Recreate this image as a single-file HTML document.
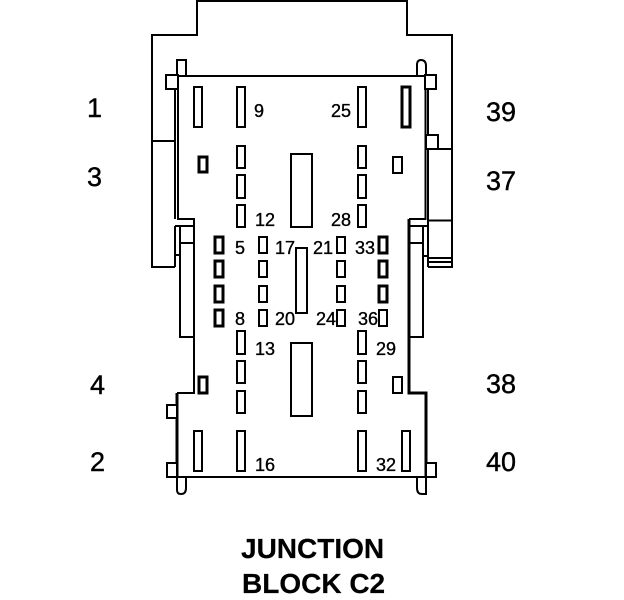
<!DOCTYPE html>
<html>
<head>
<meta charset="utf-8">
<style>
html,body{margin:0;padding:0;background:#fff;width:624px;height:600px;overflow:hidden}
svg{display:block}
.k{fill:none;stroke:#000;stroke-width:2.2;shape-rendering:crispEdges}
.w{fill:none;stroke:#000;stroke-width:3;shape-rendering:crispEdges}
.p{fill:#fff;stroke:#000;stroke-width:2;shape-rendering:crispEdges}
.t{fill:#fff;stroke:#000;stroke-width:3;shape-rendering:crispEdges}
.c{fill:none;stroke:#000;stroke-width:2}
text{font-family:"Liberation Sans",Arial,sans-serif;fill:#000;stroke:#000}
.s{font-size:18px;stroke-width:.35}
.b{font-size:27px;stroke-width:.4}
.h{font-size:28px;font-weight:bold;stroke-width:.2}
</style>
</head>
<body>
<svg width="624" height="600" viewBox="0 0 624 600" xmlns="http://www.w3.org/2000/svg">
<!-- outer housing -->
<path class="k" d="M197 36V1H407V35H452V267H428M197 35H152V267H175"/>
<path class="k" d="M152 141H175M428 149H453M428 220.500H453M428 262H453M428 258H452"/>
<!-- body -->
<path class="k" d="M178 76H426M167 477H436"/>
<path class="k" d="M175 89V219M175 226V267M178 76V219H194V393H177"/>
<path class="w" d="M177 393V477"/>
<path class="k" d="M425.500 76V219H409M428 89V267"/>
<path class="w" d="M409 219V393H426V477"/>
<path class="k" d="M175 226H194M180 226V337H194M180 243H194M175 255H180"/>
<path class="k" d="M409 226H427M423 226V337H409M409 243H423M423 256H428"/>
<!-- tabs -->
<rect class="p" x="177" y="60" width="9" height="16"/>
<rect class="p" x="166" y="75" width="12" height="14"/>
<rect class="p" x="425" y="75" width="11" height="14"/>
<rect class="p" x="426" y="135" width="12" height="14"/>
<rect class="p" x="167" y="405" width="10" height="13"/>
<rect class="p" x="167" y="463" width="10" height="14"/>
<rect class="p" x="426" y="463" width="10" height="14"/>
<path class="c" d="M417 76V65Q417 60 421 60Q426 60 426 66V76"/>
<path class="c" d="M177 477V490Q177 494 181 494Q186 494 186 488V477"/>
<path class="c" d="M417 477V488Q417 494 422 494H426V477"/>
<!-- long pins -->
<rect class="p" x="194" y="87" width="8" height="40"/>
<rect class="p" x="237" y="87" width="8" height="40"/>
<rect class="p" x="358" y="87" width="8" height="40"/>
<rect class="t" x="402" y="87" width="8" height="40"/>
<rect class="p" x="194" y="431" width="8" height="40"/>
<rect class="p" x="237" y="431" width="8" height="40"/>
<rect class="p" x="358" y="431" width="8" height="40"/>
<rect class="p" x="402" y="431" width="8" height="40"/>
<!-- medium pins -->
<rect class="p" x="237" y="146" width="8" height="22"/>
<rect class="p" x="237" y="175" width="8" height="23"/>
<rect class="p" x="237" y="205" width="8" height="22"/>
<rect class="p" x="358" y="146" width="8" height="22"/>
<rect class="p" x="358" y="175" width="8" height="23"/>
<rect class="p" x="358" y="205" width="8" height="22"/>
<rect class="p" x="237" y="331" width="8" height="23"/>
<rect class="p" x="237" y="361" width="8" height="22"/>
<rect class="p" x="237" y="391" width="8" height="22"/>
<rect class="p" x="358" y="331" width="8" height="23"/>
<rect class="p" x="358" y="361" width="8" height="22"/>
<rect class="p" x="358" y="391" width="8" height="22"/>
<!-- small side pins -->
<rect class="t" x="199" y="157" width="8" height="15"/>
<rect class="p" x="393" y="157" width="9" height="16"/>
<rect class="t" x="199" y="377" width="8" height="16"/>
<rect class="p" x="393" y="377" width="9" height="16"/>
<!-- centre big -->
<rect class="p" x="291" y="154" width="21" height="73"/>
<rect class="p" x="291" y="343" width="21" height="73"/>
<rect class="p" x="296" y="248" width="11" height="65"/>
<!-- grid pins -->
<rect class="t" x="215" y="237" width="8" height="16"/>
<rect class="t" x="215" y="261" width="8" height="16"/>
<rect class="t" x="215" y="286" width="8" height="16"/>
<rect class="t" x="215" y="310" width="8" height="16"/>
<rect class="p" x="259" y="237" width="8" height="16"/>
<rect class="p" x="259" y="261" width="8" height="16"/>
<rect class="p" x="259" y="286" width="8" height="16"/>
<rect class="p" x="259" y="310" width="8" height="16"/>
<rect class="p" x="337" y="237" width="8" height="16"/>
<rect class="p" x="337" y="261" width="8" height="16"/>
<rect class="p" x="337" y="286" width="8" height="16"/>
<rect class="p" x="337" y="310" width="8" height="16"/>
<rect class="t" x="379" y="237" width="8" height="16"/>
<rect class="t" x="379" y="261" width="8" height="16"/>
<rect class="t" x="379" y="286" width="8" height="16"/>
<rect class="p" x="379" y="310" width="8" height="16"/>
<!-- small labels -->
<text class="s" x="254" y="117">9</text>
<text class="s" x="331" y="117">25</text>
<text class="s" x="255" y="226">12</text>
<text class="s" x="331" y="226">28</text>
<text class="s" x="235" y="254">5</text>
<text class="s" x="275" y="254">17</text>
<text class="s" x="313" y="254">21</text>
<text class="s" x="355" y="254">33</text>
<text class="s" x="235" y="325">8</text>
<text class="s" x="275" y="325">20</text>
<text class="s" x="316" y="325">24</text>
<text class="s" x="358" y="325">36</text>
<text class="s" x="255" y="355">13</text>
<text class="s" x="376" y="355">29</text>
<text class="s" x="255" y="471">16</text>
<text class="s" x="376" y="471">32</text>
<!-- big labels -->
<text class="b" x="87" y="117">1</text>
<text class="b" x="87" y="186">3</text>
<text class="b" x="90" y="394">4</text>
<text class="b" x="90" y="471">2</text>
<text class="b" x="486" y="121">39</text>
<text class="b" x="486" y="190">37</text>
<text class="b" x="486" y="393">38</text>
<text class="b" x="486" y="471">40</text>
<!-- title -->
<text class="h" x="241" y="558">JUNCTION</text>
<text class="h" x="242" y="593">BLOCK C2</text>
</svg>
</body>
</html>
